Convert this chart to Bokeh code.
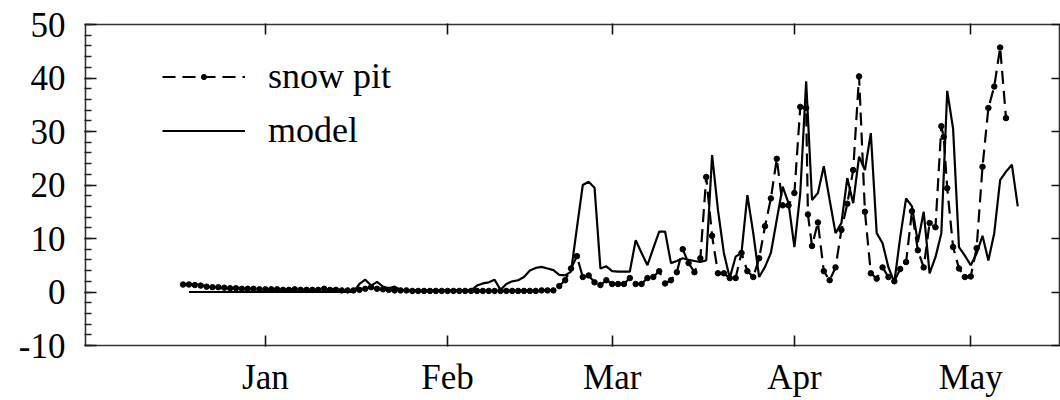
from bokeh.plotting import figure
from bokeh.models import (Range1d, LinearAxis, FixedTicker, SingleIntervalTicker,
                          Legend, LegendItem, ColumnDataSource)
from bokeh.embed import file_html
from bokeh.resources import INLINE

# ---------------- data (x = days after 1 January) ----------------
month_labels = ["Jan", "Feb", "Mar", "Apr", "May"]
month_start_day = [0, 31, 59, 90, 120]

y_ticks_labels = [-10, 0, 10, 20, 30, 40, 50]

pit_day = (list(range(-14, 93)) + [92.3] + list(range(93, 116)) + [115.4]
           + list(range(116, 127)))
pit_val = [
    # Dec 18 - Dec 31
    1.4, 1.4, 1.3, 1.2, 1.0, 0.9, 0.9, 0.8, 0.7, 0.7, 0.6, 0.6, 0.6, 0.5,
    # Jan
    0.5, 0.5, 0.5, 0.4, 0.4, 0.5, 0.4, 0.4, 0.4, 0.4,
    0.6, 0.4, 0.4, 0.3, 0.3, 0.3, 0.4, 0.6, 0.9, 0.6,
    0.5, 0.4, 0.3, 0.3, 0.3, 0.2, 0.2, 0.2, 0.2, 0.2,
    0.2, 0.2, 0.2, 0.2, 0.2, 0.2, 0.2, 0.2, 0.2, 0.2,
    0.2, 0.2, 0.2, 0.2, 0.2, 0.2, 0.2, 0.3, 0.3, 0.3,
    # day 50 ..
    1.1, 2.2, 4.4, 6.7, 2.8, 3.1, 1.8, 1.3, 2.2, 1.5,
    1.5, 1.5, 2.6, 1.5, 1.5, 2.6, 2.8, 3.9, 1.6, 2.2,
    3.7, 8.0, 5.4, 3.7, 6.3, 21.5, 10.5, 3.5, 3.5, 2.6,
    2.6, 7.3, 3.9, 2.8, 6.3, 12.3, 17.5, 24.9, 16.2, 16.2,
    18.5, 34.6, 34.4,
    14.5,
    8.6, 13.0, 3.9, 2.2, 4.6, 11.6, 16.5,
    22.8, 40.3, 15.0, 3.5, 2.5, 4.6, 2.8, 2.0, 4.3, 5.6,
    15.1, 7.8, 4.6, 12.9, 12.1, 31.0,
    29.0,
    19.4, 8.4, 4.4, 2.8, 2.9, 8.2, 23.4, 34.4, 38.4, 45.7, 32.5,
]

model_day = list(range(-13, 129))
model_val = (
    [0.0] * 29 +                                          # Dec 19 - Jan 15
    [1.5, 2.3, 1.2, 1.9, 1.0, 0.7, 1.0, 0.4] +             # 16 - 23
    [0.3] * 12 +                                          # 24 - 35
    [1.2, 1.6, 1.8, 2.3, 0.4, 1.5, 2.0, 2.2, 2.8, 4.0] +   # 36 - 45
    [4.5, 4.7, 4.4, 4.1, 3.2, 3.1, 3.8, 12.0, 20.0, 20.6] +  # 46 - 55
    [19.5, 4.4, 4.8, 3.9, 3.8, 3.8, 3.8, 9.7, 7.3, 5.0,
     8.2, 11.3, 11.3, 5.4, 5.8, 6.3, 6.0, 5.8, 5.6, 5.9] +  # 56 - 75
    [25.6, 15.3, 7.3, 2.6, 6.6, 7.3, 18.1, 11.0, 2.8, 4.7,
     7.3, 13.5, 19.7, 16.6, 8.4, 18.5, 39.4, 17.2, 18.5, 23.5,
     17.2, 11.0, 12.9, 21.3, 16.6, 25.3, 22.8, 29.7, 11.0, 9.1,
     4.6, 1.8, 10.2, 17.5, 16.0, 9.3, 15.0, 3.5, 6.5, 11.0,
     37.6, 30.5, 8.4, 6.8, 5.0, 7.2, 10.5, 5.9, 11.0, 20.9,
     22.5, 23.8, 16.0]                                     # 76 - 128
)

series_names = ["snow pit", "model"]

# ---------------- figure ----------------
FONT = "Liberation Serif"

p = figure(width=1060, height=400, output_backend="svg", toolbar_location=None,
           x_range=Range1d(-30.6, 135.1), y_range=Range1d(-10, 50),
           x_axis_type=None, y_axis_type=None,
           min_border_left=85, min_border_right=1, min_border_top=24,
           min_border_bottom=55)
p.background_fill_color = "white"
p.border_fill_color = "white"
p.outline_line_color = "#333333"
p.outline_line_width = 1.6

def style_axis(ax, show_labels=True):
    ax.axis_line_color = None
    ax.major_tick_line_color = "#111111"
    ax.major_tick_line_width = 1.6
    ax.major_tick_out = 1
    ax.minor_tick_out = 1
    ax.major_label_text_font = FONT
    ax.major_label_text_color = "black"
    if show_labels:
        ax.major_label_text_font_size = "35px"
    else:
        ax.major_label_text_font_size = "1px"
        ax.major_label_standoff = 0

# left axis
left = LinearAxis(ticker=SingleIntervalTicker(interval=10, num_minor_ticks=5))
style_axis(left)
left.major_tick_in = 11
left.minor_tick_in = 6
left.minor_tick_line_color = "#222222"
left.minor_tick_line_width = 1.3
left.major_label_standoff = 19
left.major_label_overrides = {v: str(v) for v in y_ticks_labels}
p.add_layout(left, "left")

# right axis (ticks only)
right = LinearAxis(ticker=FixedTicker(ticks=y_ticks_labels))
style_axis(right, show_labels=False)
right.major_tick_in = 8
right.minor_tick_line_color = None
right.major_label_overrides = {v: "" for v in y_ticks_labels}
p.add_layout(right, "right")

# bottom axis
bottom = LinearAxis(ticker=FixedTicker(ticks=month_start_day))
style_axis(bottom)
bottom.major_tick_in = 10
bottom.minor_tick_line_color = None
bottom.major_label_standoff = 11
bottom.major_label_overrides = dict(zip(month_start_day, month_labels))
p.add_layout(bottom, "below")

# top axis (ticks only)
top = LinearAxis(ticker=FixedTicker(ticks=month_start_day))
style_axis(top, show_labels=False)
top.major_tick_in = 10
top.minor_tick_line_color = None
top.major_label_overrides = {d: "" for d in month_start_day}
p.add_layout(top, "above")

# ---------------- data glyphs ----------------
pit_src = ColumnDataSource(dict(x=pit_day, y=pit_val))
model_src = ColumnDataSource(dict(x=model_day, y=model_val))

model_line = p.line("x", "y", source=model_src, line_color="black", line_width=2.2)
pit_line = p.line("x", "y", source=pit_src, line_color="black", line_width=2.2,
                  line_dash="13 7")
pit_dots = p.scatter("x", "y", source=pit_src, marker="circle", size=5.5,
                     fill_color="black", line_color="black")

legend = Legend(items=[LegendItem(label=series_names[0], renderers=[pit_line, pit_dots]),
                       LegendItem(label=series_names[1], renderers=[model_line])],
                location=(77, 194))
legend.border_line_color = None
legend.background_fill_alpha = 0
legend.padding = 0
legend.margin = 0
legend.spacing = 12
legend.glyph_width = 83
legend.glyph_height = 13
legend.label_height = 36
legend.label_standoff = 23
legend.label_text_font = FONT
legend.label_text_font_size = "36px"
legend.label_text_color = "black"
p.add_layout(legend)

open("out.html", "w").write(file_html(p, INLINE))
